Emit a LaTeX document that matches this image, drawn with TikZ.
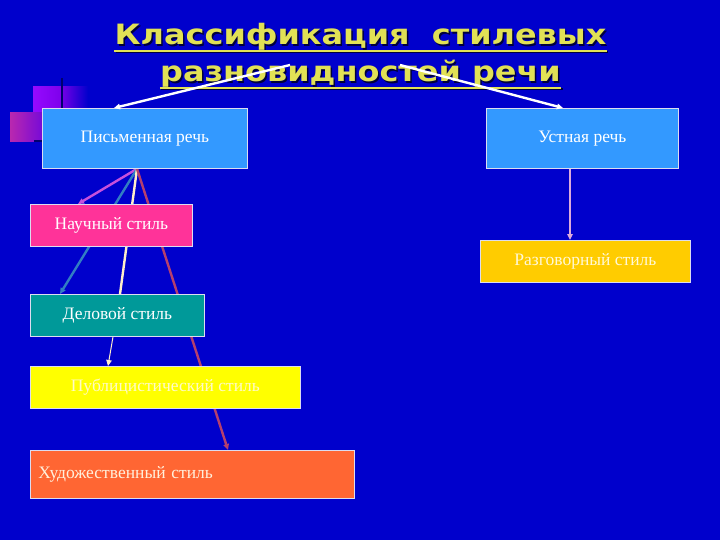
\documentclass[tikz,border=0pt]{standalone}
\usepackage{fontspec}
\setmainfont{Liberation Serif}
\newfontfamily\titlefont{DejaVu Sans}
\usetikzlibrary{arrows.meta,calc,backgrounds}
\definecolor{bgblue}{RGB}{0,0,204}
\definecolor{boxblue}{RGB}{51,153,255}
\definecolor{boxpink}{RGB}{255,51,153}
\definecolor{boxteal}{RGB}{0,153,153}
\definecolor{boxyellow}{RGB}{255,255,0}
\definecolor{boxorange}{RGB}{255,102,51}
\definecolor{boxgold}{RGB}{255,204,0}
\definecolor{titleyellow}{RGB}{225,225,85}
\definecolor{edgecol}{RGB}{220,220,240}
\definecolor{lnmagenta}{RGB}{200,80,220}
\definecolor{lnblue}{RGB}{50,125,195}
\definecolor{lncream}{RGB}{255,238,200}
\definecolor{lnred}{RGB}{180,64,110}
\definecolor{lnlav}{RGB}{220,170,220}
\definecolor{lntan}{RGB}{220,180,140}
\definecolor{darknavy}{RGB}{0,0,110}
\definecolor{decoA}{RGB}{150,10,255}
\definecolor{decoB}{RGB}{125,0,235}
\definecolor{decoC}{RGB}{115,0,230}
\definecolor{decoD}{RGB}{185,40,175}
\definecolor{decoE}{RGB}{120,10,215}
\definecolor{txtpub}{RGB}{255,250,200}
\definecolor{txthud}{RGB}{255,240,220}
\definecolor{txtraz}{RGB}{255,248,215}
\pgfdeclarelayer{lines}
\pgfdeclarelayer{deco}
\pgfsetlayers{deco,lines,main}
\tikzset{
  box/.style={draw=edgecol, line width=0.8pt, anchor=north west, inner sep=0pt,
    font=\fontsize{17.5}{20}\selectfont, text=white},
  ttlbase/.style={font=\titlefont\bfseries\fontsize{28}{32}\selectfont, anchor=base, inner sep=0pt, transform shape, xscale=1.14},
  ttl/.style={ttlbase, text=titleyellow},
  ttlsh/.style={ttlbase, text=black!70!bgblue},
  conn/.style={line width=2.4pt},
  tip/.style={-{Triangle[length=6pt,width=5.5pt]}},
}
\begin{document}
\begin{tikzpicture}[x=1pt,y=-1pt]
\useasboundingbox (0,0) rectangle (720,540);
% decoration
\begin{pgfonlayer}{deco}
\fill[bgblue] (0,0) rectangle (720,540);
\shade[left color=decoA, right color=decoB] (33,87) rectangle (62,113);
\shade[left color=decoC, right color=bgblue] (62,87) rectangle (88,113);
\shade[left color=decoD, right color=decoE] (10,113) rectangle (42,142);
\draw[line width=1.4pt, darknavy] (62,78) -- (62,115);
\draw[line width=1.4pt, darknavy] (34,141) -- (44,141);
\end{pgfonlayer}
% title
\node[ttlsh] at (362,46.5) {Классификация\ \ стилевых};
\node[ttlsh] at (362,83.5) {разновидностей речи};
\node[ttl] (t1) at (360.5,45) {Классификация\ \ стилевых};
\node[ttl] (t2) at (360.5,82) {разновидностей речи};
\draw[black!70!bgblue, line width=2pt] ($(t1.base west)+(1.5,7.5)$) -- ($(t1.base east)+(1.5,7.5)$);
\draw[black!70!bgblue, line width=2pt] ($(t2.base west)+(1.5,7.5)$) -- ($(t2.base east)+(1.5,7.5)$);
\draw[titleyellow, line width=2pt] ($(t1.base west)+(0,6)$) -- ($(t1.base east)+(0,6)$);
\draw[titleyellow, line width=2pt] ($(t2.base west)+(0,6)$) -- ($(t2.base east)+(0,6)$);
% boxes
\node[box, fill=boxblue, minimum width=205, minimum height=60] (pis) at (42,108) {Письменная речь};
\node[box, fill=boxblue, minimum width=192, minimum height=60] (ust) at (486,108) {Устная речь};
\node[box, fill=boxpink, minimum width=162, minimum height=42] (nau) at (30,204) {Научный стиль};
\node[box, fill=boxteal, minimum width=174, minimum height=42] (del) at (30,294) {Деловой стиль};
\node[box, fill=boxyellow, minimum width=270, minimum height=42, text=txtpub] (pub) at (30,366) {Публицистический стиль};
\node[box, fill=boxorange, minimum width=324, minimum height=48, text width=308, inner xsep=8pt, align=left, text=txthud] (hud) at (30,450) {Художественный стиль};
\node[box, fill=boxgold, minimum width=210, minimum height=42, text=txtraz] (raz) at (480,240) {Разговорный стиль};
% connectors
\coordinate (src) at ($(pis.south west)+(95,0)$);
\coordinate (a1) at (290,65);
\coordinate (a2) at (400,65);
\draw[white, line width=2.4pt, tip] (a1) -- ($(pis.north west)+(72,0)$);
\draw[white, line width=2.4pt, tip] (a2) -- ($(ust.north west)+(77,0)$);
\begin{pgfonlayer}{lines}
\draw[conn, lnmagenta, tip] (src) -- ($(nau.north west)+(48,0)$);
\draw[conn, lnblue, tip] (src) -- ($(del.north west)+(30,0)$);
\draw[conn, lncream] (src) -- ($(del.north west)+(90,0)$);
\draw[line width=1pt, lncream, tip] ($(del.south west)+(83,0)$) -- ($(pub.north west)+(78,0)$);
\draw[conn, lnred, tip] (src) -- ($(hud.north west)+(198,0)$);
\draw[line width=1.8pt, lnlav, -{Triangle[length=6pt,width=5.5pt,fill=lntan]}] ($(ust.south west)+(84,0)$) -- ($(raz.north west)+(90,0)$);
\end{pgfonlayer}
\end{tikzpicture}
\end{document}
